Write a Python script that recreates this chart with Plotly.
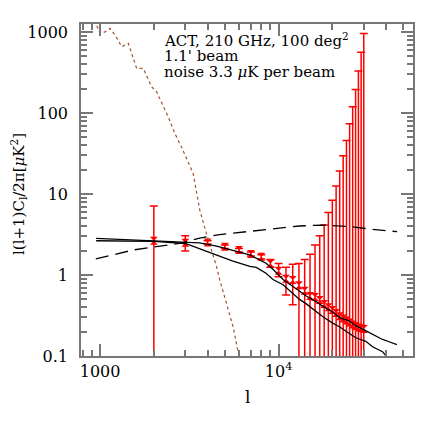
import plotly.graph_objects as go

# band powers (l, D_l in uK^2) with upper / lower error bounds
ell_pts = [2000, 3000, 4000, 5000, 6000, 7000, 8000, 9000, 10000, 11000,
           12000, 13000, 14000, 15000, 16000, 17000, 18000, 19000, 20000,
           21000, 22000, 23000, 24000, 25000, 26000, 27000, 28000, 29000, 30000]
dl_pts = [2.65, 2.5, 2.53, 2.24, 2.03, 1.82, 1.68, 1.39, 1.13, 0.90,
          0.87, 0.75, 0.64, 0.55, 0.535, 0.49, 0.44, 0.40, 0.37,
          0.34, 0.31, 0.29, 0.275, 0.26, 0.245, 0.235, 0.225, 0.22, 0.215]
dl_hi = [7.1, 3.06, 2.65, 2.35, 2.13, 1.92, 1.78, 1.56, 1.39, 1.245,
         1.36, 1.39, 1.55, 1.80, 2.35, 3.06, 4.14, 5.9, 8.4,
         12.6, 19.2, 29.7, 45.9, 74, 120, 196, 330, 562, 964]
dl_lo = [0.01, 1.98, 2.41, 2.13, 1.93, 1.72, 1.58, 1.245, 0.95, 0.566,
         0.43, 0.01, 0.01, 0.01, 0.01, 0.01, 0.01, 0.01, 0.01,
         0.01, 0.01, 0.01, 0.01, 0.01, 0.01, 0.01, 0.01, 0.01, 0.01]

# upper solid curve (total)
ell_a = [950, 2000, 3000, 3600, 4500, 5500, 6900, 8500, 9300, 10600, 11500,
         13100, 14300, 16200, 17700, 20100, 21900, 24900, 27100, 29600,
         33600, 38200, 41600, 46000]
dl_a = [2.84, 2.65, 2.55, 2.5, 2.28, 2.03, 1.77, 1.40, 1.18, 0.88, 0.77,
        0.62, 0.55, 0.47, 0.41, 0.35, 0.30, 0.27, 0.235, 0.215,
        0.185, 0.16, 0.15, 0.138]

# lower solid curve
ell_b = [950, 2000, 3000, 3600, 4500, 5500, 6900, 7500, 8500, 9300, 10600,
         11500, 13100, 14300, 16200, 17700, 20100, 21900, 24900, 27100,
         30800, 33600, 38200, 41600]
dl_b = [2.65, 2.6, 2.45, 2.1, 1.77, 1.5, 1.28, 1.24, 1.05, 0.88, 0.76,
        0.64, 0.50, 0.44, 0.35, 0.305, 0.255, 0.23, 0.19, 0.168,
        0.152, 0.13, 0.113, 0.09]

# dashed curve
ell_c = [946, 1535, 2906, 3620, 4680, 7840, 13100, 17600, 24900, 33600, 46100]
dl_c = [1.58, 2.04, 2.5, 2.86, 3.16, 3.59, 4.03, 4.14, 3.97, 3.67, 3.43]

# dotted curve (primary CMB)
ell_d = [930, 1000, 1060, 1137, 1220, 1322, 1439, 1520, 1603, 1746, 1945,
         2073, 2305, 2407, 2623, 2858, 3320, 3620, 3942, 4490, 4680,
         5560, 5990, 6300]
dl_d = [1400, 964, 1000, 1111, 900, 659, 725, 520, 356, 356, 211,
        183, 109, 90, 56, 38, 18, 6.3, 3.27, 1.27, 0.87,
        0.23, 0.1, 0.07]

y_ticks = [0.1, 1, 10, 100, 1000]
y_text = ["0.1", "1", "10", "100", "1000"]
x_ticks = [1000, 10000]
x_text = ["1000", "10<sup>4</sup>"]

x_minor = [800, 900] + [k * 1000 for k in range(2, 10)] + [k * 10000 for k in range(2, 6)]
y_minor = [m * d for d in [0.1, 1, 10, 100] for m in range(2, 10)]

FONT = "DejaVu Serif"

fig = go.Figure()

fig.add_trace(go.Scatter(
    x=ell_pts, y=dl_pts, mode="markers",
    marker=dict(symbol="hourglass", size=8, color="red"),
    error_y=dict(type="data", symmetric=False,
                 array=[h - v for h, v in zip(dl_hi, dl_pts)],
                 arrayminus=[v - l for v, l in zip(dl_pts, dl_lo)],
                 color="red", thickness=1.5, width=4),
    showlegend=False))

fig.add_trace(go.Scatter(x=ell_d, y=dl_d, mode="lines",
                         line=dict(color="#a0522d", width=1.2, dash="dot"),
                         showlegend=False))
fig.add_trace(go.Scatter(x=ell_a, y=dl_a, mode="lines",
                         line=dict(color="black", width=1.3), showlegend=False))
fig.add_trace(go.Scatter(x=ell_b, y=dl_b, mode="lines",
                         line=dict(color="black", width=1.3), showlegend=False))
fig.add_trace(go.Scatter(x=ell_c, y=dl_c, mode="lines",
                         line=dict(color="black", width=1.3, dash="13px,7px"),
                         showlegend=False))

axis_common = dict(type="log", showgrid=False, zeroline=False, showline=True,
                   linecolor="#777", linewidth=1.5, mirror="allticks",
                   ticks="inside", ticklen=12, tickwidth=1.5, tickcolor="#777",
                   tickfont=dict(family=FONT, size=16, color="black"))

fig.update_xaxes(range=[2.893, 4.753], tickmode="array", tickvals=x_ticks,
                 ticktext=x_text,
                 minor=dict(tickmode="array", tickvals=x_minor, ticks="inside",
                            ticklen=6, tickwidth=1.5, tickcolor="#777"),
                 **axis_common)
fig.update_yaxes(range=[-1, 3.1], tickmode="array", tickvals=y_ticks,
                 ticktext=y_text, ticklabelstandoff=8,
                 minor=dict(tickmode="array", tickvals=y_minor, ticks="inside",
                            ticklen=6, tickwidth=1.5, tickcolor="#777"),
                 **axis_common)

# page pixel -> paper coords (plot area spans 81..413 x 24..356 on the page)
def px(x):
    return (x - 81) / 332.0

def py(y):
    return (356 - y) / 332.0

notes = [("ACT, 210 GHz, 100 deg<sup>2</sup>", 39.5),
         ("1.1' beam", 56),
         ("noise 3.3 <i>μ</i>K per beam", 72)]
for txt, yy in notes:
    fig.add_annotation(text=txt, xref="paper", yref="paper", x=px(162), y=py(yy),
                       xanchor="left", yanchor="middle", showarrow=False,
                       font=dict(family=FONT, size=15, color="black"))

fig.add_annotation(text="l", xref="paper", yref="paper", x=px(247), y=py(397),
                   xanchor="center", yanchor="middle", showarrow=False,
                   font=dict(family=FONT, size=17, color="black"))
fig.add_annotation(text="l(l+1)C<sub>l</sub>/2π[<i>μ</i>K<sup>2</sup>]",
                   xref="paper", yref="paper", x=px(19), y=py(194),
                   xanchor="center", yanchor="middle", textangle=-90,
                   showarrow=False, font=dict(family=FONT, size=15, color="black"))

# page body has an 8px margin, so the figure is 428 px and shifted by 8
fig.update_layout(width=428, height=428, plot_bgcolor="white",
                  paper_bgcolor="white",
                  margin=dict(l=73, r=23, t=16, b=80, autoexpand=False))

fig.write_html("out.html")
